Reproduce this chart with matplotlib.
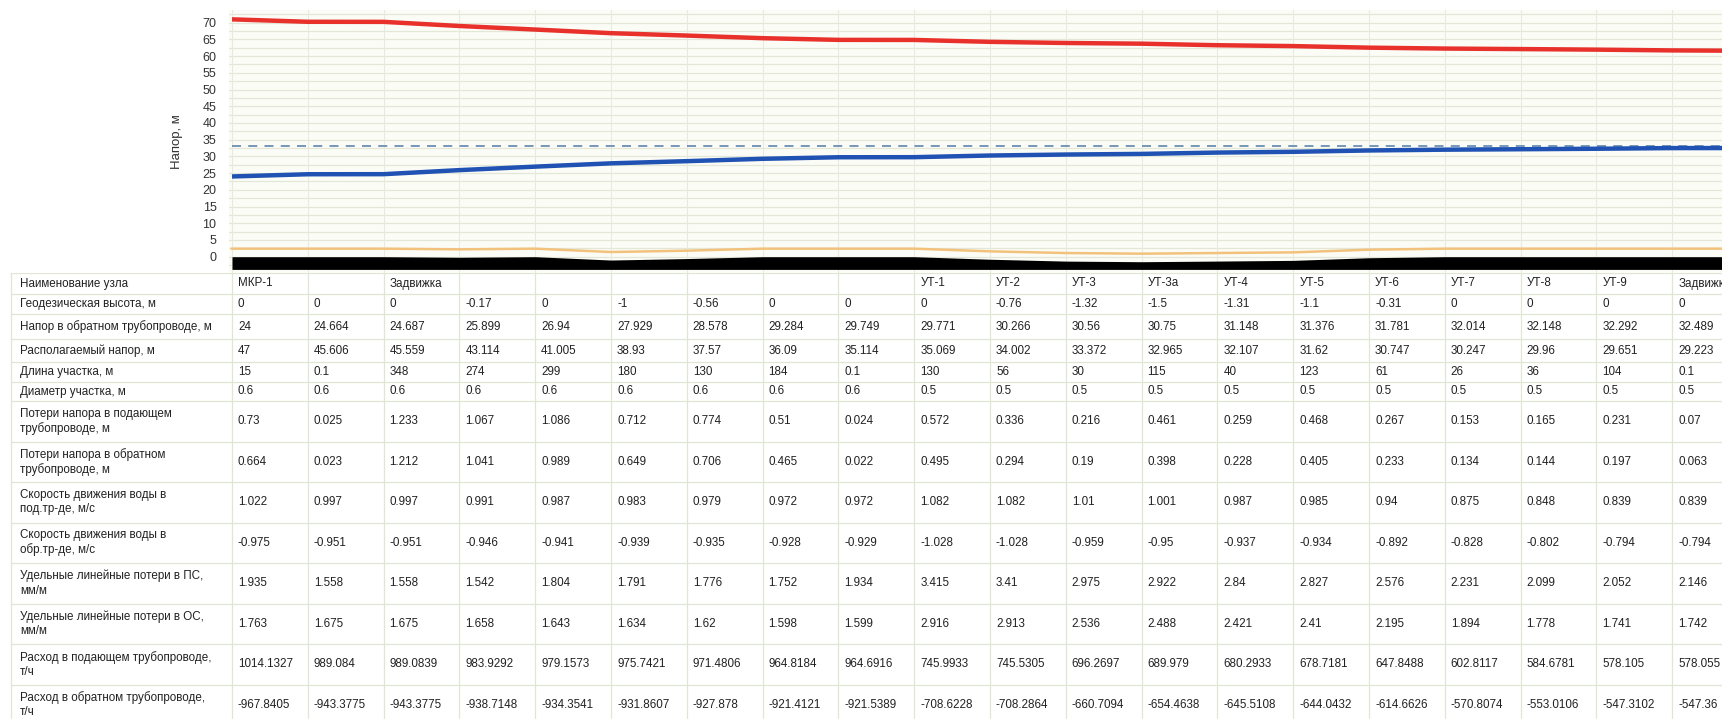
import matplotlib
matplotlib.use("Agg")
import matplotlib.pyplot as plt

plt.rcParams['font.family'] = ['Liberation Sans', 'DejaVu Sans']

# ---------------- data ----------------
node_names = ["МКР-1", "", "Задвижка", "", "", "", "", "", "", "УТ-1", "УТ-2", "УТ-3",
              "УТ-3а", "УТ-4", "УТ-5", "УТ-6", "УТ-7", "УТ-8", "УТ-9", "Задвижка"]

geo_height = [0, 0, 0, -0.17, 0, -1, -0.56, 0, 0, 0, -0.76, -1.32, -1.5, -1.31, -1.1, -0.31, 0, 0, 0, 0]
return_head = [24, 24.664, 24.687, 25.899, 26.94, 27.929, 28.578, 29.284, 29.749, 29.771, 30.266,
               30.56, 30.75, 31.148, 31.376, 31.781, 32.014, 32.148, 32.292, 32.489]
avail_head = [47, 45.606, 45.559, 43.114, 41.005, 38.93, 37.57, 36.09, 35.114, 35.069, 34.002,
              33.372, 32.965, 32.107, 31.62, 30.747, 30.247, 29.96, 29.651, 29.223]
seg_length = [15, 0.1, 348, 274, 299, 180, 130, 184, 0.1, 130, 56, 30, 115, 40, 123, 61, 26, 36, 104, 0.1]
seg_diam = [0.6, 0.6, 0.6, 0.6, 0.6, 0.6, 0.6, 0.6, 0.6, 0.5, 0.5, 0.5, 0.5, 0.5, 0.5, 0.5, 0.5, 0.5, 0.5, 0.5]
loss_supply = [0.73, 0.025, 1.233, 1.067, 1.086, 0.712, 0.774, 0.51, 0.024, 0.572, 0.336, 0.216,
               0.461, 0.259, 0.468, 0.267, 0.153, 0.165, 0.231, 0.07]
loss_return = [0.664, 0.023, 1.212, 1.041, 0.989, 0.649, 0.706, 0.465, 0.022, 0.495, 0.294, 0.19,
               0.398, 0.228, 0.405, 0.233, 0.134, 0.144, 0.197, 0.063]
vel_supply = [1.022, 0.997, 0.997, 0.991, 0.987, 0.983, 0.979, 0.972, 0.972, 1.082, 1.082, 1.01,
              1.001, 0.987, 0.985, 0.94, 0.875, 0.848, 0.839, 0.839]
vel_return = [-0.975, -0.951, -0.951, -0.946, -0.941, -0.939, -0.935, -0.928, -0.929, -1.028, -1.028,
              -0.959, -0.95, -0.937, -0.934, -0.892, -0.828, -0.802, -0.794, -0.794]
spec_loss_ps = [1.935, 1.558, 1.558, 1.542, 1.804, 1.791, 1.776, 1.752, 1.934, 3.415, 3.41, 2.975,
                2.922, 2.84, 2.827, 2.576, 2.231, 2.099, 2.052, 2.146]
spec_loss_os = [1.763, 1.675, 1.675, 1.658, 1.643, 1.634, 1.62, 1.598, 1.599, 2.916, 2.913, 2.536,
                2.488, 2.421, 2.41, 2.195, 1.894, 1.778, 1.741, 1.742]
flow_supply = [1014.1327, 989.084, 989.0839, 983.9292, 979.1573, 975.7421, 971.4806, 964.8184,
               964.6916, 745.9933, 745.5305, 696.2697, 689.979, 680.2933, 678.7181, 647.8488,
               602.8117, 584.6781, 578.105, 578.055]
flow_return = [-967.8405, -943.3775, -943.3775, -938.7148, -934.3541, -931.8607, -927.878, -921.4121,
               -921.5389, -708.6228, -708.2864, -660.7094, -654.4638, -645.5108, -644.0432, -614.6626,
               -570.8074, -553.0106, -547.3102, -547.36]

row_labels = ["Наименование узла",
              "Геодезическая высота, м",
              "Напор в обратном трубопроводе, м",
              "Располагаемый напор, м",
              "Длина участка, м",
              "Диаметр участка, м",
              "Потери напора в подающем\nтрубопроводе, м",
              "Потери напора в обратном\nтрубопроводе, м",
              "Скорость движения воды в\nпод.тр-де, м/с",
              "Скорость движения воды в\nобр.тр-де, м/с",
              "Удельные линейные потери в ПС,\nмм/м",
              "Удельные линейные потери в ОС,\nмм/м",
              "Расход в подающем трубопроводе,\nт/ч",
              "Расход в обратном трубопроводе,\nт/ч"]

# chart series (one extra node visible past the table edge)
chart_nodes = list(range(21))
supply_head_line = [71.0, 70.27, 70.25, 69.01, 67.95, 66.86, 66.15, 65.37, 64.86, 64.84, 64.27,
                    63.93, 63.72, 63.26, 63.0, 62.53, 62.26, 62.11, 61.94, 61.71, 61.6]
return_head_line = [24, 24.664, 24.687, 25.899, 26.94, 27.929, 28.578, 29.284, 29.749, 29.771, 30.266,
                    30.56, 30.75, 31.148, 31.376, 31.781, 32.014, 32.148, 32.292, 32.489, 32.5]
ground_line = [0, 0, 0, -0.17, 0, -1, -0.56, 0, 0, 0, -0.76, -1.32, -1.5, -1.31, -1.1, -0.31,
               0, 0, 0, 0, 0]
orange_line = [2.4, 2.4, 2.4, 2.2, 2.4, 1.4, 1.8, 2.4, 2.4, 2.4, 1.6, 1.1, 0.9, 1.1, 1.3, 2.1,
               2.4, 2.4, 2.4, 2.4, 2.4]
static_head = 33.0
y_ticks = list(range(0, 75, 5))

# ---------------- layout (pixels) ----------------
W, H = 1722, 719
x0_px = 232.0      # pixel of node 0
col_w = 75.8       # pixel width of a node column
ax_left_px, ax_top_px, ax_bot_px = 229, 10, 273
px_per_unit = 3.343
zero_px = 256.7

fig = plt.figure(figsize=(W / 100, H / 100), dpi=100)
fig.patch.set_facecolor('white')

ax = fig.add_axes([ax_left_px / W, 1 - ax_bot_px / H, (W - ax_left_px) / W, (ax_bot_px - ax_top_px) / H])
ax.set_facecolor('#fcfcf7')
ax.set_xlim((ax_left_px - x0_px) / col_w, (W - x0_px) / col_w)
ax.set_ylim((zero_px - ax_bot_px) / px_per_unit, (zero_px - ax_top_px) / px_per_unit)

grid_c = '#e2e7d8'
y = -2.5
while y < 75:
    ax.axhline(y, color=grid_c, lw=0.9, zorder=0)
    y += 2.5
for j in chart_nodes:
    ax.axvline(j, color='#e6eadf', lw=0.8, zorder=0)

ax.fill_between(chart_nodes, ground_line, -3.8, color='black', lw=0, zorder=2)
ax.plot(chart_nodes, orange_line, color='#f2c27c', lw=1.8, zorder=3)
ax.axhline(static_head, color='#6a90b2', lw=1.3, ls=(0, (5, 4)), zorder=3, xmin=0.002)
ax.plot(chart_nodes, return_head_line, color='#1f52b3', lw=3.2, zorder=4, solid_capstyle='butt')
ax.plot(chart_nodes, supply_head_line, color='#e8312b', lw=3.2, zorder=4, solid_capstyle='butt')

ax.set_yticks(y_ticks)
ax.set_yticklabels([str(t) for t in y_ticks])
ax.tick_params(axis='y', length=0, pad=9, labelsize=9, labelcolor='#333333')
ax.set_xticks([])
for s in ax.spines.values():
    s.set_visible(False)
ax.set_ylabel("Напор, м", fontsize=9.5, color='#333333', labelpad=14)

# ---------------- table ----------------
tab = fig.add_axes([0, 0, 1, (H - 273) / H])
tab.set_xlim(0, W)
tab.set_ylim(H, 273)
tab.axis('off')

row_h = [21, 20, 25, 23, 20, 19] + [40.5] * 8
rows_values = [node_names, geo_height, return_head, avail_head, seg_length, seg_diam, loss_supply,
               loss_return, vel_supply, vel_return, spec_loss_ps, spec_loss_os, flow_supply, flow_return]

line_c = '#e0e6d6'
left_border = 11
ytop = 273
n_cols = len(node_names)
tab.plot([left_border, W], [ytop, ytop], color=line_c, lw=0.9)
for i, (lab, vals) in enumerate(zip(row_labels, rows_values)):
    yc = ytop + row_h[i] / 2
    tab.text(left_border + 9, yc, lab, ha='left', va='center', fontsize=8.4,
             color='#222222', linespacing=1.25)
    for j, v in enumerate(vals):
        txt = v if isinstance(v, str) else str(v)
        tab.text(x0_px + col_w * j + 6, yc, txt, ha='left', va='center', fontsize=8.4, color='#222222')
    ytop += row_h[i]
    tab.plot([left_border, W], [ytop, ytop], color=line_c, lw=0.9)
for j in range(n_cols + 1):
    xx = x0_px + col_w * j
    tab.plot([xx, xx], [273, H], color=line_c, lw=0.9)
tab.plot([left_border, left_border], [273, H], color=line_c, lw=0.9)

fig.savefig("out.png", dpi=100)
